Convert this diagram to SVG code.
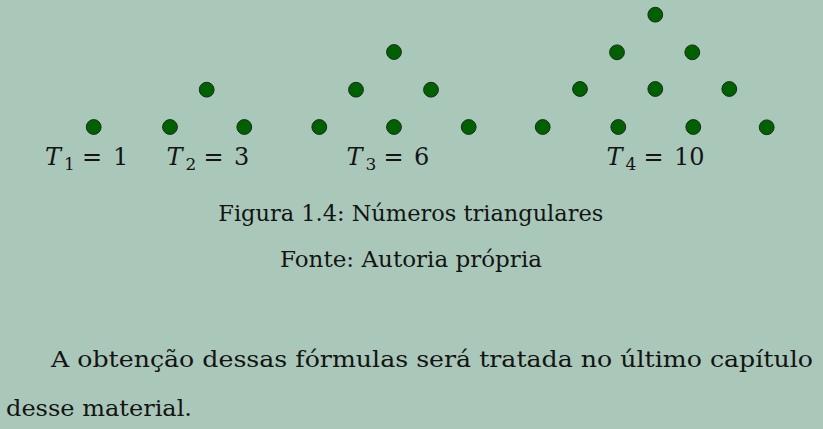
<svg xmlns="http://www.w3.org/2000/svg" width="823" height="429" viewBox="0 0 823 429">
<style>
.dot{fill:#006100;stroke:#1c2a1c;stroke-width:1}
text{font-family:'DejaVu Serif',serif;fill:#141414}
.m{font-size:24px}
.it{font-style:italic}
.sub{font-size:17px}
.cap{font-size:22px}
.body{font-size:23px}
</style>
<rect width="823" height="429" fill="#aac8b9"/>
<g id="T1">
<circle class="dot" cx="93.7" cy="127" r="7.4"/>
<text class="m"><tspan class="it" x="45" y="165">T</tspan><tspan class="sub" x="64" y="170">1</tspan><tspan x="82" y="165">=</tspan><tspan x="113" y="165">1</tspan></text>
</g>
<g id="T2">
<circle class="dot" cx="170" cy="127" r="7.4"/>
<circle class="dot" cx="206.7" cy="89.7" r="7.4"/>
<circle class="dot" cx="244.3" cy="127" r="7.4"/>
<text class="m"><tspan class="it" x="166.5" y="165">T</tspan><tspan class="sub" x="185.5" y="170">2</tspan><tspan x="203.5" y="165">=</tspan><tspan x="234" y="165">3</tspan></text>
</g>
<g id="T3">
<circle class="dot" cx="319.3" cy="127" r="7.4"/>
<circle class="dot" cx="394" cy="127" r="7.4"/>
<circle class="dot" cx="468.7" cy="127" r="7.4"/>
<circle class="dot" cx="356" cy="89.7" r="7.4"/>
<circle class="dot" cx="431" cy="89.7" r="7.4"/>
<circle class="dot" cx="394" cy="52" r="7.4"/>
<text class="m"><tspan class="it" x="346.5" y="165">T</tspan><tspan class="sub" x="365.5" y="170">3</tspan><tspan x="383.5" y="165">=</tspan><tspan x="414" y="165">6</tspan></text>
</g>
<g id="T4">
<circle class="dot" cx="542.7" cy="127" r="7.4"/>
<circle class="dot" cx="618.3" cy="127" r="7.4"/>
<circle class="dot" cx="693.3" cy="127" r="7.4"/>
<circle class="dot" cx="766.7" cy="127.3" r="7.4"/>
<circle class="dot" cx="580" cy="89" r="7.4"/>
<circle class="dot" cx="655.3" cy="89" r="7.4"/>
<circle class="dot" cx="729.3" cy="89" r="7.4"/>
<circle class="dot" cx="617" cy="52.3" r="7.4"/>
<circle class="dot" cx="692.3" cy="52.3" r="7.4"/>
<circle class="dot" cx="655.3" cy="14.7" r="7.4"/>
<text class="m"><tspan class="it" x="606.5" y="165">T</tspan><tspan class="sub" x="625.5" y="170">4</tspan><tspan x="643.5" y="165">=</tspan><tspan x="674" y="165">10</tspan></text>
</g>
<g id="caption">
<text class="cap" x="218.3" y="221" textLength="385" lengthAdjust="spacingAndGlyphs">Figura 1.4: Números triangulares</text>
<text class="cap" x="280" y="267" textLength="262" lengthAdjust="spacingAndGlyphs">Fonte: Autoria própria</text>
</g>
<g id="paragraph">
<text class="body" x="51" y="367" textLength="762" lengthAdjust="spacingAndGlyphs">A obtenção dessas fórmulas será tratada no último capítulo</text>
<text class="body" x="6" y="416" textLength="186" lengthAdjust="spacingAndGlyphs">desse material.</text>
</g>
</svg>
